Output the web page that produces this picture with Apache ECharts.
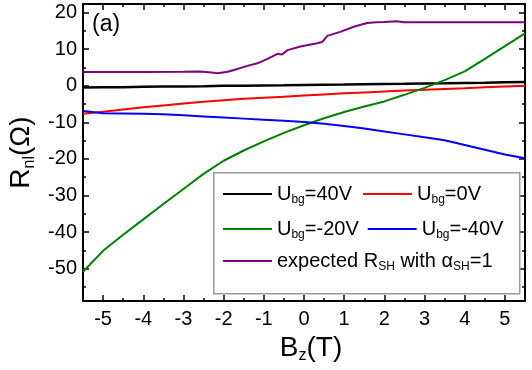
<!DOCTYPE html>
<html><head><meta charset="utf-8">
<script src="https://cdn.jsdelivr.net/npm/echarts@6/dist/echarts.min.js"></script>
<style>html,body{margin:0;padding:0;background:#fff}#c{width:532px;height:370px}</style>
</head><body><div id="c"></div>
<script>
// ---- data ----
const fieldB = [-5.5,-5,-4.5,-4,-3.5,-3,-2.5,-2,-1.5,-1,-0.5,0,0.5,1,1.5,2,2.5,3,3.5,4,4.5,5,5.5];
const rUbg40  = [-0.5,-0.45,-0.4,-0.3,-0.25,-0.2,-0.15,-0.05,0.0,0.05,0.1,0.2,0.25,0.3,0.4,0.45,0.5,0.6,0.65,0.75,0.8,0.9,1.0];
const rUbg0   = [-7.7,-7.1,-6.5,-5.9,-5.4,-4.9,-4.4,-4.0,-3.6,-3.3,-3.0,-2.7,-2.4,-2.1,-1.85,-1.6,-1.35,-1.1,-0.9,-0.7,-0.45,-0.2,0.0];
const rUbgM20 = [-50.8,-45.1,-40.7,-36.5,-32.3,-28.2,-24.1,-20.5,-17.7,-15.2,-12.9,-10.8,-8.9,-7.2,-5.7,-4.3,-2.5,-0.6,1.5,3.9,7.3,10.8,14.3];
const rUbgM40 = [-6.9,-7.5,-7.6,-7.7,-7.8,-8.1,-8.4,-8.7,-9.0,-9.3,-9.6,-9.9,-10.4,-11.0,-11.7,-12.5,-13.3,-14.1,-14.9,-16.2,-17.5,-18.8,-19.8];
const fieldBsh = [-5.5,-4,-3,-2.6,-2.3,-2.15,-1.9,-1.74,-1.41,-1.16,-0.91,-0.66,-0.55,-0.41,-0.09,0.33,0.45,0.58,0.9,1.24,1.57,1.8,2.0,2.3,2.5,5.5];
const rSH      = [3.7,3.7,3.8,3.9,3.6,3.4,3.8,4.3,5.4,6.1,7.3,8.7,8.5,9.7,10.7,11.6,11.9,13.6,14.7,16.1,17.1,17.3,17.4,17.6,17.3,17.3];
const xMajor = [-5,-4,-3,-2,-1,0,1,2,3,4,5];
const xMinor = [-4.5,-3.5,-2.5,-1.5,-0.5,0.5,1.5,2.5,3.5,4.5];
const yMajor = [-50,-40,-30,-20,-10,0,10,20];
const yMinor = [-55,-45,-35,-25,-15,-5,5,15];
const seriesNames = ['Ubg=40V','Ubg=0V','Ubg=-20V','Ubg=-40V','expected RSH with aSH=1'];
const legendRich = {
  'Ubg=40V': '{m|U}{s|bg}{m|=40V}',
  'Ubg=0V': '{m|U}{s|bg}{m|=0V}',
  'Ubg=-20V': '{m|U}{s|bg}{m|=-20V}',
  'Ubg=-40V': '{m|U}{s|bg}{m|=-40V}',
  'expected RSH with aSH=1': '{m|expected R}{s|SH}{m| with α}{s|SH}{m|=1}'
};
const colors = ['#000000','#ff0000','#008000','#0000ff','#800080'];

// ---- chart ----
const FONT = 'Liberation Sans, Arial, sans-serif';
const xMin = -5.5, xMax = 5.5, yMin = -58.8, yMax = 22.3;
const pairs = (xs, ys) => xs.map((x, i) => [x, ys[i]]);
const rich = {
  m: {fontSize: 20, lineHeight: 24, fontFamily: FONT, color: '#000'},
  s: {fontSize: 12, lineHeight: 5, verticalAlign: 'bottom', fontFamily: FONT, color: '#000'}
};
function xAx(pos, vals, len, labels, name) {
  const a = {
    type: 'value', position: pos, min: xMin, max: xMax,
    axisLine: {show: true, onZero: false, lineStyle: {color: '#000', width: 2}},
    axisTick: {show: true, inside: true, length: len, customValues: vals, lineStyle: {color: '#000', width: 1.5}},
    axisLabel: {show: labels, customValues: vals, fontSize: 20, fontFamily: FONT, color: '#000', margin: 8},
    splitLine: {show: false}
  };
  if (name) {
    a.name = '{m|B}{s|z}{m|(T)}';
    a.nameLocation = 'middle';
    a.nameGap = 30;
    a.nameTextStyle = {padding: [0, 0, 0, 14], rich: {
      m: {fontSize: 28, lineHeight: 32, fontFamily: FONT, color: '#000'},
      s: {fontSize: 16, lineHeight: 6, verticalAlign: 'bottom', fontFamily: FONT, color: '#000'}}};
  }
  return a;
}
function yAx(pos, vals, len, labels, name) {
  const a = {
    type: 'value', position: pos, min: yMin, max: yMax,
    axisLine: {show: true, onZero: false, lineStyle: {color: '#000', width: 2}},
    axisTick: {show: true, inside: true, length: len, customValues: vals, lineStyle: {color: '#000', width: 1.5}},
    axisLabel: {show: labels, customValues: vals, fontSize: 20, fontFamily: FONT, color: '#000', margin: 6},
    splitLine: {show: false}
  };
  if (name) {
    a.name = '{m|R}{s|nl}{m|(Ω)}';
    a.nameLocation = 'middle';
    a.nameGap = 42;
    a.nameTextStyle = {rich: {
      m: {fontSize: 28, lineHeight: 32, fontFamily: FONT, color: '#000'},
      s: {fontSize: 16, lineHeight: 6, verticalAlign: 'bottom', fontFamily: FONT, color: '#000'}}};
  }
  return a;
}
const dataSets = [pairs(fieldB, rUbg40), pairs(fieldB, rUbg0), pairs(fieldB, rUbgM20), pairs(fieldB, rUbgM40), pairs(fieldBsh, rSH)];
function legendRow(names, top, gap) {
  return {
    data: names, left: 223, top: top, orient: 'horizontal', padding: 0,
    icon: 'rect', itemWidth: 49, itemHeight: 2, itemGap: gap,
    formatter: n => legendRich[n],
    textStyle: {fontSize: 20, fontFamily: FONT, color: '#000', rich: rich}
  };
}
const chart = echarts.init(document.getElementById('c'), null, {renderer: 'canvas'});
chart.setOption({
  animation: false,
  backgroundColor: '#fff',
  grid: {left: 83, right: 7, top: 4, bottom: 69, containLabel: false, outerBoundsMode: 'none'},
  xAxis: [xAx('bottom', xMajor, 6, true, true), xAx('bottom', xMinor, 3, false), xAx('top', xMajor, 6, false), xAx('top', xMinor, 3, false)],
  yAxis: [yAx('left', yMajor, 6, true, true), yAx('left', yMinor, 3, false), yAx('right', yMajor, 6, false), yAx('right', yMinor, 3, false)],
  legend: [legendRow(['Ubg=40V','Ubg=0V'], 184, 11), legendRow(['Ubg=-20V','Ubg=-40V'], 219, 9), legendRow(['expected RSH with aSH=1'], 251, 9)],
  graphic: [
    {type: 'rect', left: 213, top: 172, z: 3, shape: {width: 306, height: 121}, style: {fill: '#fff', stroke: '#999', lineWidth: 1.5}},
    {type: 'text', left: 92, top: 13, z: 5, style: {text: '(a)', fontSize: 23, fontFamily: FONT, fill: '#000'}}
  ],
  series: seriesNames.map((n, i) => ({
    name: n, type: 'line', data: dataSets[i], xAxisIndex: 0, yAxisIndex: 0,
    symbol: 'none', smooth: false, clip: true, z: 2,
    lineStyle: {color: colors[i], width: i === 0 ? 2.5 : 2},
    itemStyle: {color: colors[i]}
  }))
});
</script></body></html>
